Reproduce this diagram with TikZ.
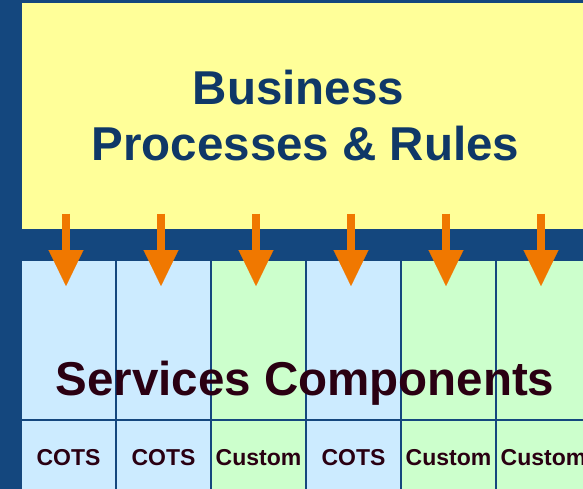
\documentclass[tikz,border=0pt]{standalone}
\usepackage{fontspec}
\setmainfont{Liberation Sans}
\usetikzlibrary{arrows.meta}
\definecolor{navy}{HTML}{14477E}
\definecolor{deepnavy}{HTML}{0F3867}
\definecolor{butter}{HTML}{FFFF99}
\definecolor{skyblue}{HTML}{CCEBFF}
\definecolor{mint}{HTML}{CCFFCC}
\definecolor{darkmaroon}{HTML}{2A0012}
\definecolor{pipeorange}{HTML}{F07800}
\begin{document}
\begin{tikzpicture}[x=1pt,y=-1pt]
\tikzstyle{cots}=[draw=navy,line width=2pt,fill=skyblue,minimum width=95pt,inner sep=0pt]
\tikzstyle{custom}=[draw=navy,line width=2pt,fill=mint,minimum width=95pt,inner sep=0pt]
\tikzstyle{tag}=[minimum height=75pt,text=darkmaroon,font=\fontsize{23}{23}\selectfont\bfseries]
\tikzstyle{pipe}=[line width=8pt,draw=pipeorange,-{Triangle[width=35pt 0,length=36pt 0,line width=0.1pt]}]
\useasboundingbox (0,0) rectangle (583,489);
\fill [navy] (0,0) rectangle (583,489);
\clip (0,0) rectangle (583,489);
% upper parts of the columns
\node [cots,minimum height=160pt] (u1) at (68.5,340) {};
\node [cots,minimum height=160pt] (u2) at (163.5,340) {};
\node [custom,minimum height=160pt] (u3) at (258.5,340) {};
\node [cots,minimum height=160pt] (u4) at (353.5,340) {};
\node [custom,minimum height=160pt] (u5) at (448.5,340) {};
\node [custom,minimum height=160pt] (u6) at (543.5,340) {};
% lower parts with the labels
\node [cots,tag] (b1) at (68.5,457.5) {COTS};
\node [cots,tag] (b2) at (163.5,457.5) {COTS};
\node [custom,tag] (b3) at (258.5,457.5) {Custom};
\node [cots,tag] (b4) at (353.5,457.5) {COTS};
\node [custom,tag] (b5) at (448.5,457.5) {Custom};
\node [custom,tag] (b6) at (543.5,457.5) {Custom};
% business layer
\node [draw=navy,line width=1pt,fill=butter,minimum width=600pt,minimum height=226pt,inner sep=0pt] (biz) at (321,116) {};
\node [align=center,text=deepnavy,font=\fontsize{47.5}{56}\selectfont\bfseries] (biztext) at (305.5,115.5) {Business\hspace*{14pt}\\Processes \& Rules};
\foreach \i in {1,...,6} {
  \coordinate (top\i) at (u\i.north |- biz.south);
  \draw [pipe] ([xshift=-2.5pt,yshift=16pt]top\i) -- ([xshift=-2.5pt,yshift=-27pt]u\i.north);
}
\node [anchor=base,text=darkmaroon,font=\fontsize{47.5}{47.5}\selectfont\bfseries] (svc) at (305,395) {Services Components};
\end{tikzpicture}
\end{document}
